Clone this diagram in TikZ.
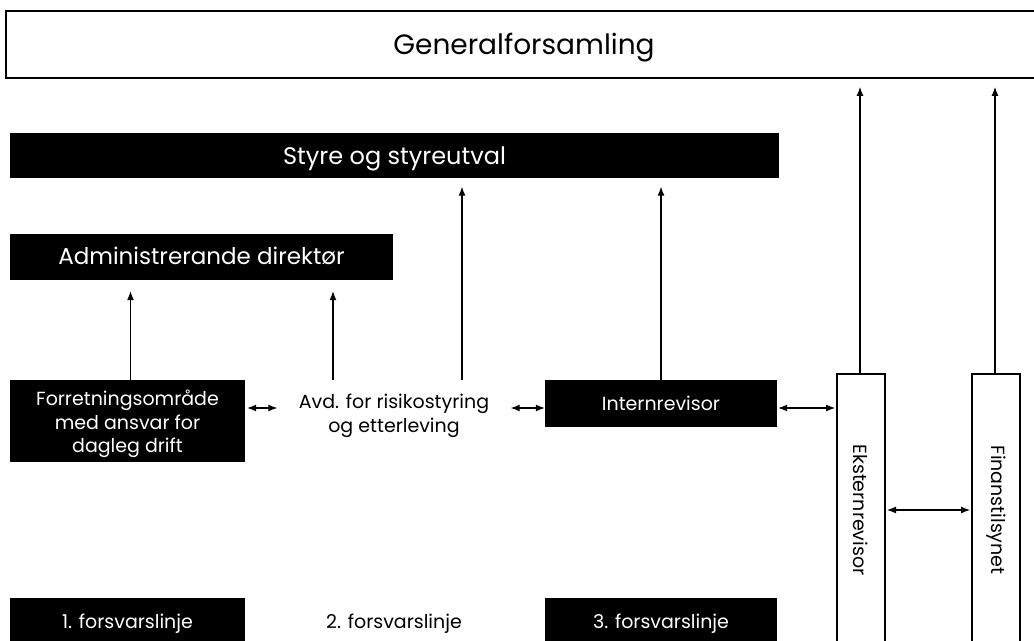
\documentclass[tikz,border=0pt]{standalone}
\usepackage{fontspec}
\setmainfont{Poppins}
\usetikzlibrary{arrows.meta}
\begin{document}
\begin{tikzpicture}[x=1bp,y=-1bp,
  capc/.style={text height=#1,text depth=0pt},
  blk/.style={fill=black,text=white,inner sep=0pt,align=center,font=\fontsize{19bp}{23.5bp}\selectfont},
  wbox/.style={draw=black,line width=2bp,fill=white,inner sep=0pt,align=center,font=\fontsize{19bp}{23.5bp}\selectfont},
  plain/.style={inner sep=0pt,align=center,font=\fontsize{19bp}{23.5bp}\selectfont},
  arr/.style={-{Latex[length=9bp,width=7bp]},line width=1.1bp},
  darr/.style={{Latex[length=9bp,width=7bp]}-{Latex[length=9bp,width=7bp]},line width=1.1bp}]
\useasboundingbox (0,0) rectangle (1034,641);
\node[wbox,minimum width=1036bp,minimum height=67bp,capc=19.5bp,font=\fontsize{28bp}{30bp}\selectfont] (gen) at (524,44.5) {Generalforsamling};
\node[blk,minimum width=769bp,minimum height=45bp,capc=16.7bp,font=\fontsize{24bp}{28bp}\selectfont] (styre) at (394.5,156) {Styre og styreutval};
\node[blk,minimum width=383bp,minimum height=46bp,capc=16bp,font=\fontsize{23bp}{28bp}\selectfont] (adm) at (201.5,257) {Administrerande direktør};
\node[blk,minimum width=235bp,minimum height=82bp] (forr) at (127.5,421) {};
\node[plain,text=white] (forrtxt) at (127.5,424) {Forretningsområde\\med ansvar for\\dagleg drift};
\node[plain,minimum width=233bp,minimum height=66bp] (avd) at (394,416) {Avd. for risikostyring\\og etterleving};
\node[blk,minimum width=232bp,minimum height=47bp,capc=13.2bp] (intern) at (661,403.5) {Internrevisor};
\node[wbox,minimum width=48bp,minimum height=280bp] (eks) at (861,514) {};
\node[rotate=-90,plain] (ekstxt) at (861,510) {Eksternrevisor};
\node[wbox,minimum width=48bp,minimum height=280bp] (fin) at (996,514) {};
\node[rotate=-90,plain] (fintxt) at (996,510) {Finanstilsynet};
\node[blk,minimum width=235bp,minimum height=48bp,capc=13.2bp] (l1) at (127.5,622) {1. forsvarslinje};
\node[plain,capc=13.2bp] (l2) at (394,622) {2. forsvarslinje};
\node[blk,minimum width=232bp,minimum height=48bp,capc=13.2bp] (l3) at (661,622) {3. forsvarslinje};
% vertical arrows
\draw[arr,shorten >=11bp] ([xshift=3bp]forr.north) -- ([xshift=3bp]forr.north |- adm.south);
\draw[arr,shorten >=11bp] ([xshift=-61bp,yshift=3bp]avd.north) -- ([xshift=-61bp]avd.north |- adm.south);
\draw[arr,shorten >=8bp] ([xshift=68bp,yshift=3bp]avd.north) -- ([xshift=68bp]avd.north |- styre.south);
\draw[arr,shorten >=8bp] (intern.north) -- (intern.north |- styre.south);
\draw[arr,shorten >=8bp] ([xshift=-1bp]eks.north) -- ([xshift=-1bp]eks.north |- gen.south);
\draw[arr,shorten >=8bp] ([xshift=-1bp]fin.north) -- ([xshift=-1bp]fin.north |- gen.south);
% horizontal double arrows
\draw[darr,shorten <=2bp] ([yshift=13bp]forr.east) -- ([yshift=13bp]forr.east -| avd.west);
\draw[darr] ([yshift=-4.5bp]intern.west -| avd.east) -- ([yshift=-4.5bp]intern.west);
\draw[darr,shorten <=1bp,shorten >=1bp] ([yshift=-4.5bp]intern.east) -- ([yshift=-4.5bp]intern.east -| eks.west);
\draw[darr,shorten <=1bp,shorten >=1bp] (eks.east |- 0,510) -- (fin.west |- 0,510);
\end{tikzpicture}
\end{document}
